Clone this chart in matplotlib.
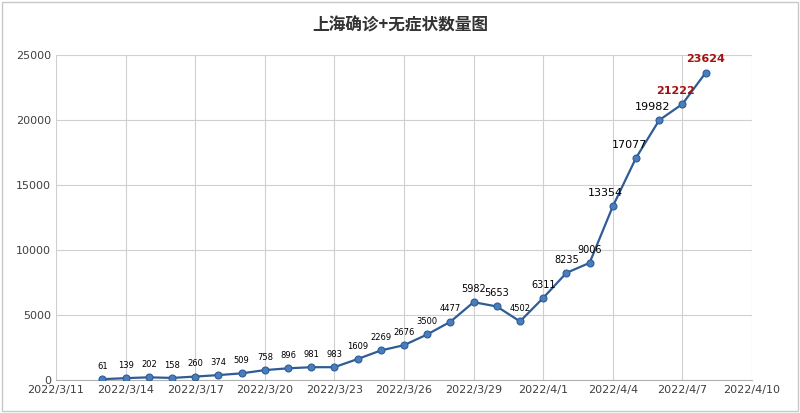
import matplotlib
matplotlib.use("Agg")
import matplotlib.pyplot as plt
import matplotlib.dates as mdates
from matplotlib import font_manager
import pandas as pd

cjk = None
for name in ["Noto Sans CJK SC", "Noto Sans CJK JP", "Noto Sans CJK TC"]:
    try:
        font_manager.findfont(name, fallback_to_default=False)
        cjk = name
        break
    except Exception:
        pass
plt.rcParams["font.family"] = ["DejaVu Sans"] + ([cjk] if cjk else [])

start_date = "2022-03-13"
values = [61, 139, 202, 158, 260, 374, 509, 758, 896, 981, 983, 1609, 2269, 2676,
          3500, 4477, 5982, 5653, 4502, 6311, 8235, 9006, 13354, 17077, 19982, 21222, 23624]
dates = pd.date_range(start_date, periods=len(values), freq="D")
tick_dates = pd.date_range("2022-03-11", "2022-04-10", freq="3D")
title = "上海确诊+无症状数量图"

fig = plt.figure(figsize=(8, 4.13), dpi=100)
ax = fig.add_axes([0.07, 0.08, 0.87, 0.787])
ax.plot(dates, values, color="#2f5c96", lw=1.6, marker="o", ms=5,
        mfc="#4a7ebb", mec="#2f5c96", mew=0.8, zorder=3)
for i, (d, v) in enumerate(zip(dates, values)):
    big = v > 13000
    red = i >= len(values) - 2
    color = "#a50f0f" if red else "black"
    fs = 8 if big else (7 if v > 5000 else 6)
    dx = -5 if big and i < len(values) - 1 else 0
    ax.annotate(str(v), (d, v), xytext=(dx, 6), textcoords="offset points",
                ha="center", va="bottom", fontsize=fs, color=color,
                fontweight="bold" if red else "normal")
ax.set_xlim(tick_dates[0], tick_dates[-1])
ax.set_ylim(0, 25000)
ax.set_yticks(range(0, 25001, 5000))
ax.set_xticks(tick_dates)
ax.xaxis.set_major_formatter(mdates.DateFormatter("%Y/%-m/%-d"))
ax.grid(True, color="#d0d0d0", lw=0.8)
ax.tick_params(labelsize=8, length=0, colors="#404040")
for s in ["top", "right", "left"]:
    ax.spines[s].set_visible(False)
ax.spines["bottom"].set_color("#b0b0b0")
fig.text(0.5, 0.925, title, ha="center", fontsize=12, fontweight="bold", color="#333333",
         family=cjk if cjk else None)
fig.patches.append(plt.Rectangle((0.003, 0.005), 0.994, 0.99, transform=fig.transFigure,
                                 fill=False, ec="#c8c8c8", lw=1))
fig.savefig("out.png", dpi=100)
